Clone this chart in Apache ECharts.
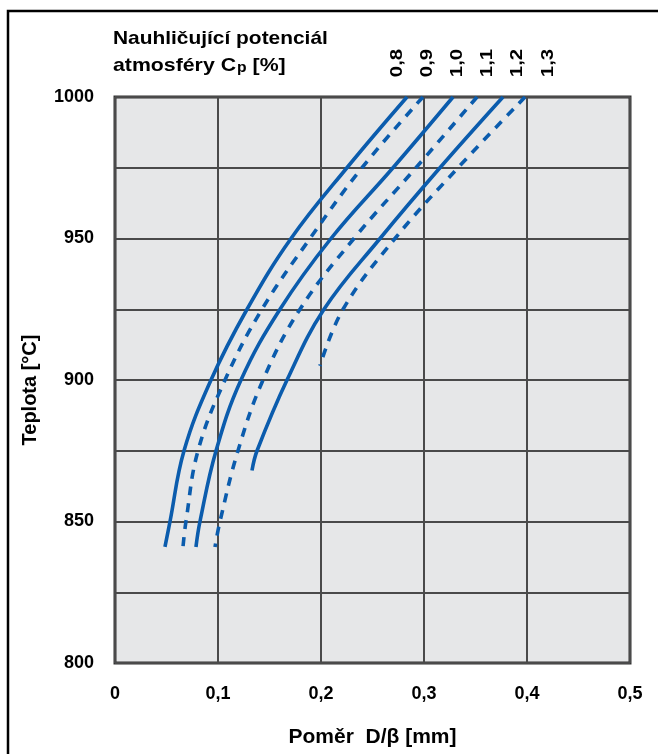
<!DOCTYPE html>
<html>
<head>
<meta charset="utf-8">
<script src="https://cdn.jsdelivr.net/npm/echarts@6/dist/echarts.min.js"></script>
<style>
  html, body { margin: 0; padding: 0; background: #fff; }
  #chart { width: 658px; height: 754px; }
</style>
</head>
<body>
<div id="chart"></div>
<script>
// Carburizing potential levels (Cp, %) — one curve per level
const cpLevels = ['0,8', '0,9', '1,0', '1,1', '1,2', '1,3'];
const dashedLevel = [false, true, false, true, false, true];

// Temperature points [°C] for each curve
const temps08 = [1000, 975, 950, 925, 900, 875, 850, 841];
const temps09 = [1000, 975, 950, 925, 900, 875, 850, 841];
const temps10 = [1000, 975, 950, 925, 900, 875, 850, 841];
const temps11 = [1000, 975, 950, 925, 900, 875, 850, 841];
const temps12 = [1000, 975, 950, 925, 900, 875, 868];
const temps13 = [1000, 975, 950, 925, 905];

// Ratio D/beta [mm] at those temperatures
const ratio08 = [0.2835, 0.2252, 0.1709, 0.1282, 0.0932, 0.0670, 0.0534, 0.0485];
const ratio09 = [0.2990, 0.2398, 0.1893, 0.1427, 0.1068, 0.0806, 0.0689, 0.0660];
const ratio10 = [0.3282, 0.2699, 0.2097, 0.1602, 0.1223, 0.0981, 0.0825, 0.0786];
const ratio11 = [0.3515, 0.2922, 0.2320, 0.1796, 0.1437, 0.1194, 0.1019, 0.0971];
const ratio12 = [0.3767, 0.3155, 0.2573, 0.2029, 0.1670, 0.1379, 0.1330];
const ratio13 = [0.3981, 0.3330, 0.2718, 0.2214, 0.1990];

// Axis ranges and tick labels
const xTicks = [0, 0.1, 0.2, 0.3, 0.4, 0.5];
const yMin = 800, yMax = 1000, yStep = 25, yLabelStep = 50;

const allTemps = [temps08, temps09, temps10, temps11, temps12, temps13];
const allRatios = [ratio08, ratio09, ratio10, ratio11, ratio12, ratio13];

const FONT = '"Liberation Sans", Arial, sans-serif';
const BLUE = '#0b5cad';

const series = cpLevels.map((name, i) => ({
  name: name,
  type: 'line',
  data: allRatios[i].map((r, k) => [r, allTemps[i][k]]),
  smooth: 0.4,
  showSymbol: false,
  symbol: 'none',
  lineStyle: {
    color: BLUE,
    width: 3.6,
    type: dashedLevel[i] ? [9, 8] : 'solid',
    cap: 'butt'
  },
  z: 5
}));

// Rotated Cp level labels above the plot
const labelX = [397, 427, 457, 487, 517, 548];
const levelLabels = cpLevels.map((t, i) => ({
  type: 'text',
  x: labelX[i],
  y: 63,
  rotation: Math.PI / 2,
  scaleX: 1.2,
  style: {
    text: t,
    font: 'bold 17px ' + FONT,
    fill: '#000',
    align: 'center',
    verticalAlign: 'middle'
  }
}));

const chart = echarts.init(document.getElementById('chart'), null, { renderer: 'canvas' });
chart.setOption({
  animation: false,
  backgroundColor: '#fff',
  grid: {
    left: 115, top: 97, right: 28, bottom: 91,
    show: true,
    backgroundColor: '#e6e7e8',
    borderColor: '#333',
    borderWidth: 3
  },
  xAxis: {
    type: 'value',
    min: 0, max: 0.5, interval: 0.1,
    name: 'Poměr  D/β [mm]',
    nameLocation: 'middle',
    nameGap: 64,
    nameTextStyle: { fontFamily: FONT, fontWeight: 'bold', fontSize: 21, color: '#000' },
    axisLine: { show: false },
    axisTick: { show: false },
    axisLabel: {
      margin: 22,
      fontFamily: FONT, fontWeight: 'bold', fontSize: 18, color: '#000',
      formatter: v => {
        const t = xTicks.find(x => Math.abs(x - v) < 1e-9);
        return t === undefined ? '' : (t === 0 ? '0' : t.toFixed(1).replace('.', ','));
      }
    },
    splitLine: { show: true, lineStyle: { color: '#4a4a4a', width: 2 } }
  },
  yAxis: {
    type: 'value',
    min: yMin, max: yMax, interval: yStep,
    name: 'Teplota [°C]',
    nameLocation: 'middle',
    nameGap: 75,
    nameRotate: 90,
    nameTextStyle: {
      fontFamily: FONT, fontWeight: 'bold', fontSize: 20, color: '#000',
      padding: [0, 20, 0, 0]
    },
    axisLine: { show: false },
    axisTick: { show: false },
    axisLabel: {
      margin: 21,
      fontFamily: FONT, fontWeight: 'bold', fontSize: 18, color: '#000',
      formatter: v => (v % yLabelStep === 0 ? String(v) : '')
    },
    splitLine: { show: true, lineStyle: { color: '#4a4a4a', width: 2 } }
  },
  series: series,
  graphic: [
    {
      type: 'rect',
      shape: { x: 8, y: 11, width: 700, height: 800 },
      style: { fill: 'none', stroke: '#000', lineWidth: 2.5 },
      silent: true
    },
    {
      type: 'text',
      x: 113, y: 29,
      scaleX: 1.1,
      style: {
        text: 'Nauhličující potenciál',
        font: 'bold 19px ' + FONT,
        fill: '#000',
        verticalAlign: 'top'
      }
    },
    {
      type: 'text',
      x: 113, y: 53,
      scaleX: 1.12,
      style: {
        text: '{a|atmosféry C}{s|p}{a| [%]}',
        verticalAlign: 'top',
        rich: {
          a: { font: 'bold 19px ' + FONT, fill: '#000', verticalAlign: 'bottom' },
          s: { font: 'bold 14px ' + FONT, fill: '#000', padding: [8, 0, 0, 1], verticalAlign: 'bottom' }
        }
      }
    }
  ].concat(levelLabels)
});
</script>
</body>
</html>
